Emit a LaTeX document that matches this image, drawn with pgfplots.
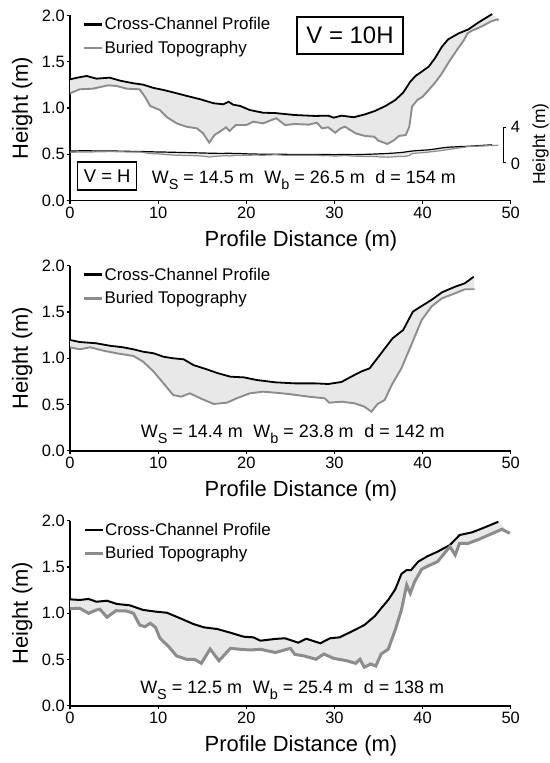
\documentclass[border=0pt]{standalone}
\usepackage{fontspec}
\setmainfont{Liberation Sans}
\usepackage{pgfplots}
\pgfplotsset{compat=1.18}
\usepackage{pgfplotstable}
\usepgfplotslibrary{fillbetween}
\definecolor{lgray}{RGB}{140,140,140}
\definecolor{fgray}{RGB}{232,232,232}

\pgfplotstableread{
x h
0 1.31
0.95 1.33
1.9 1.346
3.0 1.317
4.5 1.328
5.7 1.295
7.2 1.267
8.3 1.252
9.5 1.216
10.6 1.195
12.1 1.159
13.6 1.122
14.8 1.094
16.3 1.051
17.4 1.04
18.0 1.068
18.5 1.036
19.3 1.022
20.4 0.978
21.9 0.949
23.3 0.945
25.5 0.924
27.8 0.914
29.3 0.917
29.9 0.895
30.8 0.917
32.2 0.9
33.5 0.932
34.6 0.968
35.8 1.022
36.9 1.086
37.8 1.166
38.6 1.284
39.2 1.346
39.9 1.393
40.7 1.447
41.4 1.537
42.2 1.663
42.9 1.742
44.1 1.807
45.2 1.85
46.3 1.922
47.9 2.016
}\topblack

\pgfplotstableread{
x h
0 1.159
1.1 1.202
2.6 1.209
4.3 1.245
5.3 1.238
6.4 1.209
7.9 1.202
8.5 1.122
9.1 1.022
9.7 0.997
10.2 0.978
11.0 0.9
12.1 0.834
13.2 0.798
14.4 0.78
15.1 0.726
15.8 0.625
16.4 0.708
17.0 0.744
17.7 0.791
18.1 0.751
18.8 0.816
20.0 0.816
20.8 0.852
21.9 0.834
23.1 0.878
23.4 0.889
24.4 0.816
25.5 0.827
27.1 0.82
28.0 0.841
28.6 0.78
29.3 0.791
30.1 0.733
30.7 0.78
31.2 0.798
32.4 0.726
33.5 0.697
34.5 0.69
35.0 0.647
36.0 0.611
36.8 0.654
37.3 0.697
38.1 0.708
38.5 0.798
38.8 1.014
39.4 1.086
40.0 1.122
40.7 1.195
41.5 1.284
42.2 1.375
43.0 1.5
43.9 1.627
44.7 1.735
45.1 1.807
45.6 1.836
46.8 1.886
47.7 1.933
48.5 1.959
48.6 1.944
}\topgray

\pgfplotstableread{
x h
0 1.197
1.1 1.175
3.0 1.161
4.5 1.135
6.0 1.118
7.2 1.096
8.3 1.07
9.5 1.053
10.6 1.016
11.7 0.999
12.9 0.988
14.0 0.926
15.5 0.88
16.8 0.837
18.2 0.8
19.7 0.793
21.2 0.764
23.3 0.739
25.5 0.728
27.8 0.728
29.3 0.721
30.8 0.743
31.9 0.8
33.0 0.854
34.0 0.891
35.3 1.053
36.6 1.215
37.8 1.305
38.9 1.503
39.9 1.564
41.0 1.629
42.2 1.712
43.7 1.773
44.8 1.81
45.8 1.881
}\midblack

\pgfplotstableread{
x h
0 1.118
1.1 1.096
2.3 1.118
3.8 1.081
5.3 1.053
7.2 1.024
8.3 0.962
9.5 0.854
10.6 0.729
11.7 0.602
12.6 0.584
13.6 0.62
14.8 0.566
16.3 0.505
17.8 0.519
18.9 0.566
20.4 0.62
21.9 0.638
23.3 0.627
24.8 0.613
27.1 0.584
28.9 0.566
29.4 0.519
30.8 0.53
32.3 0.512
33.4 0.476
34.2 0.422
34.9 0.505
35.7 0.548
36.5 0.71
37.6 0.891
38.8 1.161
39.9 1.413
41.0 1.557
42.2 1.647
43.7 1.702
44.8 1.745
45.9 1.745
}\midgray

\pgfplotstableread{
x h
0 1.15
1.1 1.143
2.1 1.154
3.0 1.124
4.2 1.135
5.3 1.1
6.8 1.085
8.3 1.035
9.8 1.016
11.0 1.005
12.5 0.945
14.0 0.883
15.2 0.847
16.7 0.829
18.2 0.789
19.7 0.746
20.8 0.739
21.6 0.703
23.3 0.722
24.4 0.729
25.9 0.681
26.8 0.724
28.4 0.675
29.5 0.729
30.6 0.739
31.9 0.8
33.4 0.872
34.6 0.97
35.3 1.053
36.1 1.143
36.9 1.258
37.6 1.424
38.2 1.467
38.7 1.467
39.5 1.557
40.6 1.618
41.7 1.665
43.1 1.737
44.2 1.845
45.6 1.874
46.8 1.918
48.6 1.989
}\botblack

\pgfplotstableread{
x h
0 1.049
1.1 1.053
2.1 0.999
3.0 1.035
3.4 1.042
4.2 0.956
5.2 1.027
6.4 1.024
7.2 0.999
7.9 0.872
8.5 0.854
9.1 0.891
9.7 0.847
10.2 0.729
11.2 0.638
12.1 0.537
13.2 0.502
14.1 0.502
14.9 0.458
15.9 0.613
16.9 0.486
18.2 0.62
19.3 0.61
20.4 0.602
21.6 0.61
23.3 0.575
25.0 0.62
25.5 0.555
26.6 0.537
27.9 0.502
28.8 0.559
29.9 0.512
31.4 0.486
32.4 0.458
32.9 0.502
33.4 0.415
34.1 0.451
34.7 0.429
35.3 0.559
36.1 0.61
36.9 0.818
37.6 1.035
38.2 1.305
38.6 1.215
39.1 1.341
39.9 1.475
40.6 1.51
41.7 1.557
43.1 1.719
43.7 1.629
44.2 1.756
45.2 1.756
46.4 1.799
47.5 1.845
49.0 1.907
49.9 1.864
}\botgray

\newcommand\sub[1]{\raisebox{-0.33em}{\fontsize{14.5}{14.5}\selectfont #1}}

\pgfplotsset{
  panel/.style={
    scale only axis, width=440.7bp, height=185bp,
    xmin=0, xmax=50, ymin=0, ymax=2,
    axis lines=left, axis line style={-, line width=1.8bp},
    clip=false,
    xtick={0,10,...,50}, ytick={0,0.5,...,2},
    tick style={black, line width=1.2bp},
    tick align=outside, major tick length=3.5bp,
    /pgf/number format/assume math mode=true,
    tick label style={font=\fontsize{16.5}{18}\selectfont},
    yticklabel style={inner sep=1.5bp, /pgf/number format/.cd, fixed, fixed zerofill, precision=1},
    xticklabel style={inner sep=2.5bp},
    xlabel={Profile Distance (m)}, ylabel={Height (m)},
    label style={font=\fontsize{22}{24}\selectfont},
    xlabel style={at={(axis description cs:0.524,-0.246)}, anchor=base},
    ylabel style={at={(axis description cs:-0.0953,0.5)}, anchor=base},
    legend cell align=left,
    legend style={draw=none, fill=none, inner sep=0pt, font=\fontsize{17}{18}\selectfont,
      at={(axis description cs:0.0295,0.995)}, anchor=north west, row sep=8bp,
      nodes={inner sep=1pt}},
    legend image code/.code={\draw[##1] (0bp,0bp) -- (18bp,0bp);},
  },
  blk/.style={black, line width=1.8bp, forget plot},
  gry/.style={lgray, line width=1.9bp, forget plot},
}

\begin{document}
\begin{tikzpicture}

% ---------- top panel ----------
\begin{axis}[panel, at={(70bp,562.5bp)}, anchor=south west]
\addlegendimage{black, line width=2.4bp}
\addlegendentry{Cross-Channel Profile}
\addlegendimage{lgray, line width=2.4bp}
\addlegendentry{Buried Topography}
\addplot[blk, name path=tb] table[x=x,y=h] {\topblack};
\addplot[gry, name path=tg] table[x=x,y=h] {\topgray};
\addplot[fgray, forget plot] fill between[of=tb and tg];
% V = H inset (same profiles at true scale)
\addplot[black, line width=1.2bp, forget plot, name path=ib] table[x=x, y expr=0.41+0.0952*\thisrow{h}] {\topblack};
\addplot[lgray, line width=1.2bp, forget plot, name path=ig] table[x=x, y expr=0.41+0.0952*\thisrow{h}] {\topgray};
\addplot[fgray, forget plot] fill between[of=ib and ig];
% scale bar
\draw[line width=1bp] (axis cs:49.47,0.79) -- (axis cs:49.13,0.79) -- (axis cs:49.13,0.41) -- (axis cs:49.47,0.41);
\node[anchor=west, inner sep=0pt, font=\fontsize{16.5}{18}\selectfont] at (axis cs:50.0,0.80) {4};
\node[anchor=west, inner sep=0pt, font=\fontsize{16.5}{18}\selectfont] at (axis cs:50.0,0.40) {0};
\node[rotate=90, inner sep=0pt, font=\fontsize{17.5}{18}\selectfont] at (axis cs:53.4,0.61) {Height (m)};
% boxes
\node[draw, line width=1.6bp, minimum width=106bp, minimum height=37.5bp, inner sep=0pt, font=\fontsize{24}{26}\selectfont] at (axis cs:31.77,1.784) {V = 10H};
\node[draw, line width=1.6bp, minimum width=59bp, minimum height=28bp, inner sep=0pt, font=\fontsize{18.5}{20}\selectfont] at (axis cs:4.22,0.265) {V = H};
\node[anchor=base west, inner sep=0pt, font=\fontsize{18}{19}\selectfont] at (axis cs:9.27,0.18) {W\sub{S} = 14.5 m\hspace{0.6em}W\sub{b} = 26.5 m\hspace{0.6em}d = 154 m};
\end{axis}

% ---------- middle panel ----------
\begin{axis}[panel, at={(70bp,312.3bp)}, anchor=south west]
\addlegendimage{black, line width=2.4bp}
\addlegendentry{Cross-Channel Profile}
\addlegendimage{lgray, line width=2.4bp}
\addlegendentry{Buried Topography}
\addplot[blk, name path=mb] table[x=x,y=h] {\midblack};
\addplot[gry, name path=mg] table[x=x,y=h] {\midgray};
\addplot[fgray, forget plot] fill between[of=mb and mg];
\node[anchor=base west, inner sep=0pt, font=\fontsize{18}{19}\selectfont] at (axis cs:8.02,0.145) {W\sub{S} = 14.4 m\hspace{0.6em}W\sub{b} = 23.8 m\hspace{0.6em}d = 142 m};
\end{axis}

% ---------- bottom panel ----------
\begin{axis}[panel, at={(70bp,57.3bp)}, anchor=south west]
\addlegendimage{black, line width=2.4bp}
\addlegendentry{Cross-Channel Profile}
\addlegendimage{lgray, line width=3bp}
\addlegendentry{Buried Topography}
\addplot[blk, line width=2bp, name path=bb] table[x=x,y=h] {\botblack};
\addplot[gry, line width=3bp, name path=bg] table[x=x,y=h] {\botgray};
\addplot[fgray, forget plot] fill between[of=bb and bg];
\node[anchor=base west, inner sep=0pt, font=\fontsize{18}{19}\selectfont] at (axis cs:7.95,0.13) {W\sub{S} = 12.5 m\hspace{0.6em}W\sub{b} = 25.4 m\hspace{0.6em}d = 138 m};
\end{axis}

\pgfresetboundingbox
\path[use as bounding box] (0,0) rectangle (550bp,763bp);
\end{tikzpicture}
\end{document}
